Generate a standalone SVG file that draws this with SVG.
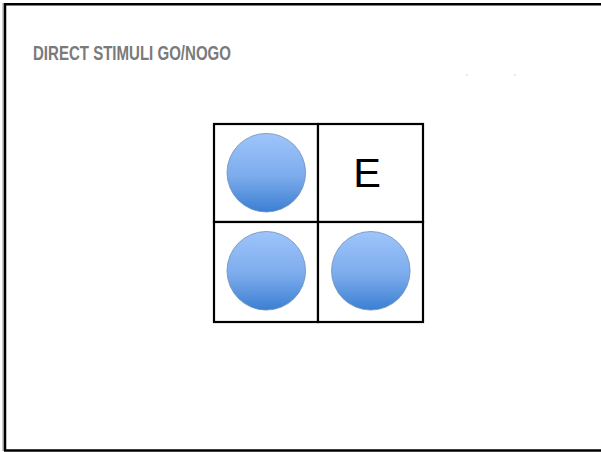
<svg xmlns="http://www.w3.org/2000/svg" width="601" height="452" viewBox="0 0 601 452">
  <defs>
    <linearGradient id="blue" x1="0" y1="0" x2="0" y2="1">
      <stop offset="0" stop-color="#9ec5fb"/>
      <stop offset="0.55" stop-color="#7cabec"/>
      <stop offset="1" stop-color="#3b7fd2"/>
    </linearGradient>
  </defs>
  <style>
    .frame { fill: none; stroke: #000; stroke-width: 2.5; }
    .cell { fill: #fff; stroke: #000; stroke-width: 2.2; }
    .dot { fill: url(#blue); stroke: #6f8fb8; stroke-width: 0.8; }
    .title { font-family: "Liberation Sans", Arial, sans-serif; font-weight: bold; font-size: 21px; fill: #7a7a7a; }
    .letter { font-family: "Liberation Sans", Arial, sans-serif; font-size: 41.5px; fill: #000; }
  </style>
  <rect width="601" height="452" fill="#fff"/>
  <line x1="3" y1="3" x2="3" y2="451" stroke="#9a9a9a" stroke-width="1"/>
  <path class="frame" d="M5 451 V4.2 H601 M4 450.5 H601"/>
  <text class="title" x="33" y="59.5" textLength="198" lengthAdjust="spacingAndGlyphs">DIRECT STIMULI GO/NOGO</text>
  <rect x="466.5" y="74.5" width="1" height="1" fill="#aaa"/>
  <rect x="514.5" y="74.5" width="1" height="1" fill="#aaa"/>
  <g id="grid">
    <g id="cell-tl"><rect class="cell" x="214" y="124" width="104" height="98"/></g>
    <g id="cell-tr"><rect class="cell" x="318" y="124" width="105" height="98"/></g>
    <g id="cell-bl"><rect class="cell" x="214" y="222" width="104" height="100"/></g>
    <g id="cell-br"><rect class="cell" x="318" y="222" width="105" height="100"/></g>
  </g>
  <g id="circle-tl"><circle class="dot" cx="266.3" cy="172.7" r="39.3"/></g>
  <g id="letter-e"><text class="letter" x="367" y="186.5" text-anchor="middle">E</text></g>
  <g id="circle-bl"><circle class="dot" cx="266.3" cy="270.8" r="39.3"/></g>
  <g id="circle-br"><circle class="dot" cx="370.8" cy="270.8" r="39.3"/></g>
  <g id="connectors"/>
</svg>
